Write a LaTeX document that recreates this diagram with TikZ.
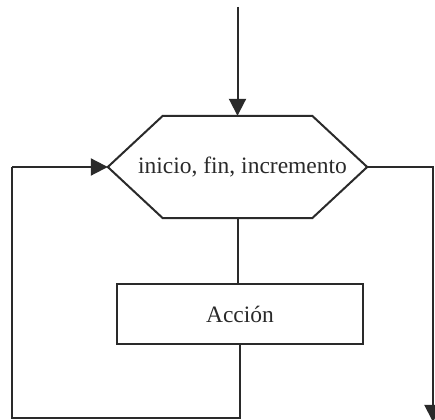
\documentclass[tikz,border=0pt]{standalone}
\usepackage{fontspec}
\setmainfont{Liberation Serif}
\usetikzlibrary{arrows.meta,calc}

\definecolor{ink}{HTML}{2A2A2A}

\tikzset{
  flow/.style={draw=ink, line width=2pt},
  arrowline/.style={flow, -{Triangle[length=17pt,width=17pt]}},
  looplabel/.style={inner sep=0pt, text=ink,
    font=\fontsize{23.5}{28}\selectfont},
  actionbox/.style={looplabel, flow, minimum width=246pt, minimum height=60pt}
}

\begin{document}
\begin{tikzpicture}[x=1pt,y=1pt]
  % page frame
  \clip (0,0) rectangle (435,419);
  \fill[white] (0,0) rectangle (435,419);

  % loop header (hexagon) and action box
  \node[looplabel, minimum width=259pt, minimum height=102pt] (ciclo) at (237.5,252) {};
  \node[looplabel] (ciclotxt) at (242.5,252) {inicio, fin, incremento};
  \draw[flow, line join=miter]
    (ciclo.west) -- ([xshift=55pt]ciclo.north west) -- ([xshift=-55pt]ciclo.north east)
    -- (ciclo.east) -- ([xshift=-55pt]ciclo.south east) -- ([xshift=55pt]ciclo.south west) -- cycle;

  \node[actionbox] (accion) at (240,105) {Acción};

  % entry, loop-back and exit paths
  \coordinate (entrada) at (237.5,412);
  \coordinate (abajo) at (239.5,1);
  \coordinate (izqabajo) at (12,1);
  \coordinate (izqarriba) at (12,252);
  \coordinate (derarriba) at (433,252);
  \coordinate (salida) at (433,-3);

  \draw[arrowline] (entrada) -- (ciclo.north);
  \draw[flow] (ciclo.south) -- (ciclo.south |- accion.north);
  \draw[flow] (accion.south) -- (accion.south |- abajo) -- (izqabajo) -- (izqarriba);
  \draw[arrowline] (izqarriba) -- (ciclo.west);
  \draw[arrowline] (ciclo.east) -- (derarriba) -- (salida);
\end{tikzpicture}
\end{document}
